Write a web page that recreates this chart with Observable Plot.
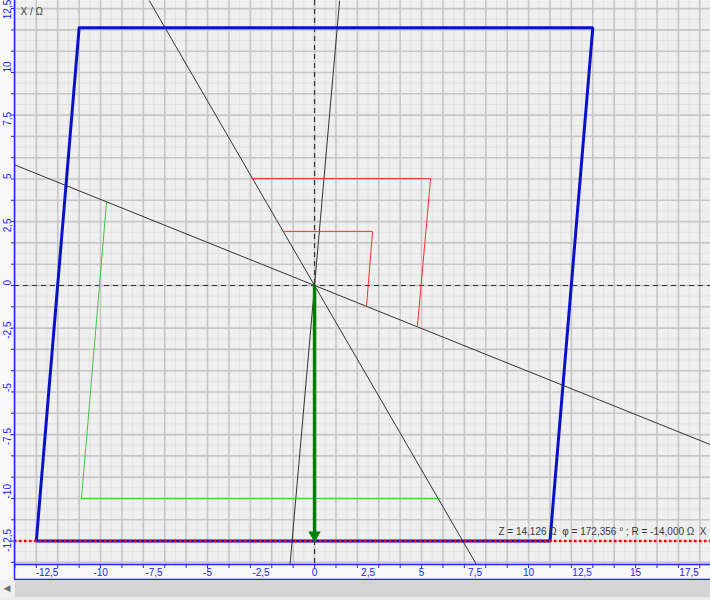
<!DOCTYPE html>
<html>
<head>
<meta charset="utf-8">
<script src="https://cdn.jsdelivr.net/npm/d3@7"></script>
<script src="https://cdn.jsdelivr.net/npm/@observablehq/plot@0.6"></script>
<style>
  html, body { margin: 0; padding: 0; background: #f8f8f8; }
  #chart svg { display: block; }
  #scroll { position: relative; width: 710px; height: 20px; background: #ebebeb; }
  #scroll .btn { position: absolute; left: 0; top: 0; width: 14px; height: 17px; background: #f0f0f0; color: #707070; font: 9px 'DejaVu Sans', sans-serif; line-height: 17px; text-align: center; }
  #scroll .track { position: absolute; left: 15px; top: 0; right: 0; height: 17px; background: #d4d4d4; }
</style>
</head>
<body>
<div id="chart"></div>
<div id="scroll"><div class="btn">◀</div><div class="track"></div></div>
<script>
// ---- data ----
const xDomain = [-14.02, 18.5];
const yDomain = [-13.1, 13.38];
const xTickLabels = [-12.5, -10, -7.5, -5, -2.5, 0, 2.5, 5, 7.5, 10, 12.5, 15, 17.5];
const yTickLabels = [-12.5, -10, -7.5, -5, -2.5, 0, 2.5, 5, 7.5, 10, 12.5];
const blueX = [-11, 13, 11, -13, -11];
const blueY = [12.1, 12.1, -12, -12, 12.1];
const redOuterX = [-2.94, 5.42, 4.81];
const redOuterY = [5.02, 5.02, -1.88];
const redInnerX = [-1.45, 2.71, 2.43];
const redInnerY = [2.54, 2.54, -0.94];
const greenX = [-9.72, -10.89, 5.85];
const greenY = [3.92, -10, -10];
const lineAngles = [120, 158, 85]; // degrees, lines through origin
const arrowTip = -12;
const cursorY = -12;
const readoutText = "Z = 14,126 Ω  φ = 172,356 ° ; R = -14,000 Ω  X";
const axisTitle = "X / Ω";

// ---- derived ----
const fmt = v => String(v).replace(".", ",");
const pts = (xs, ys) => xs.map((x, i) => ({x, y: ys[i]}));
function clipLine(deg) {
  const c = Math.cos(deg * Math.PI / 180), s = Math.sin(deg * Math.PI / 180);
  let t0 = -Infinity, t1 = Infinity;
  if (Math.abs(c) > 1e-9) { const a = xDomain[0] / c, b = xDomain[1] / c; t0 = Math.max(t0, Math.min(a, b)); t1 = Math.min(t1, Math.max(a, b)); }
  if (Math.abs(s) > 1e-9) { const a = yDomain[0] / s, b = yDomain[1] / s; t0 = Math.max(t0, Math.min(a, b)); t1 = Math.min(t1, Math.max(a, b)); }
  return {x1: t0 * c, y1: t0 * s, x2: t1 * c, y2: t1 * s};
}
const segments = lineAngles.map(clipLine);
const majorX = d3.range(-14, 19, 1), minorX = d3.range(-13.5, 18.5, 1);
const majorY = d3.range(-13, 14, 1), minorY = d3.range(-12.5, 13.5, 1);
const axisBlue = "#2323ff";

const chart = Plot.plot({
  width: 710, height: 580,
  marginLeft: 14, marginRight: 0, marginTop: 0, marginBottom: 16,
  style: {background: "#f8f8f8", color: axisBlue, fontFamily: "'Liberation Sans', 'DejaVu Sans', sans-serif", fontSize: "10px", overflow: "hidden"},
  x: {domain: xDomain, ticks: majorX, tickSize: 4, tickFormat: () => "", label: null},
  y: {domain: yDomain, ticks: majorY, tickSize: 3, tickFormat: () => "", label: null},
  marks: [
    Plot.frame({fill: "#efefef", stroke: "none"}),
    Plot.ruleX(minorX, {stroke: "#e2e2e2", strokeWidth: 1}),
    Plot.ruleY(minorY, {stroke: "#e2e2e2", strokeWidth: 1}),
    Plot.ruleX(majorX, {stroke: "#c6c6c6", strokeWidth: 1.6}),
    Plot.ruleY(majorY, {stroke: "#c6c6c6", strokeWidth: 1.6}),
    Plot.ruleX([0], {stroke: "#333", strokeWidth: 1.2, strokeDasharray: "5,4"}),
    Plot.ruleY([0], {stroke: "#333", strokeWidth: 1.2, strokeDasharray: "5,4"}),
    Plot.link(segments, {x1: "x1", y1: "y1", x2: "x2", y2: "y2", stroke: "#333", strokeWidth: 1}),
    Plot.line(pts(redOuterX, redOuterY), {x: "x", y: "y", stroke: "#ff2e2e", strokeWidth: 1}),
    Plot.line(pts(redInnerX, redInnerY), {x: "x", y: "y", stroke: "#ff2e2e", strokeWidth: 1}),
    Plot.line(pts(greenX, greenY), {x: "x", y: "y", stroke: "#3cc83c", strokeWidth: 1}),
    Plot.line(pts(blueX, blueY), {x: "x", y: "y", stroke: "#0a12c8", strokeWidth: 3, strokeLinejoin: "miter"}),
    Plot.ruleY([cursorY], {stroke: "#ff0000", strokeWidth: 2.5, strokeDasharray: "2.5,2.5"}),
    Plot.link([{x1: 0, y1: 0, x2: 0, y2: arrowTip}], {x1: "x1", y1: "y1", x2: "x2", y2: "y2", stroke: "#008000", strokeWidth: 3.5}),
    Plot.dot([{x: 0, y: arrowTip}], {x: "x", y: "y", symbol: "triangle", r: 4.6, rotate: 180, dy: -6, fill: "#008000", stroke: "none"}),
    Plot.ruleX([xDomain[0]], {stroke: axisBlue, strokeWidth: 1.5, insetBottom: -15}),
    Plot.ruleY([yDomain[0]], {stroke: axisBlue, strokeWidth: 1.5}),
    Plot.ruleY([yDomain[0]], {stroke: axisBlue, strokeWidth: 1.5, dy: 15}),
    Plot.text(xTickLabels, {x: d => d, frameAnchor: "bottom", dy: 11, text: fmt, fill: axisBlue, fontSize: 10}),
    Plot.text(yTickLabels, {y: d => d, frameAnchor: "left", dx: -7, rotate: -90, text: fmt, fill: axisBlue, fontSize: 10}),
    Plot.text([axisTitle], {frameAnchor: "top-left", dx: 6, dy: 7, text: d => d, fill: "#404040", fontSize: 10, textAnchor: "start"}),
    Plot.text([readoutText], {frameAnchor: "right", y: () => cursorY, dy: -9, dx: -4, text: d => d, fill: "#383838", fontSize: 10, textAnchor: "end"})
  ]
});
document.getElementById("chart").appendChild(chart);
</script>
</body>
</html>
